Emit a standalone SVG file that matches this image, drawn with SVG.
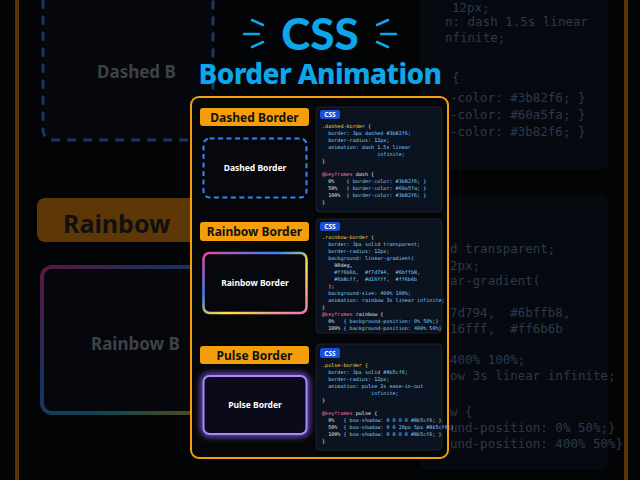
<svg xmlns="http://www.w3.org/2000/svg" width="640" height="480" viewBox="0 0 640 480">
<defs>
<style>
.lbl{font-family:"Noto Sans","DejaVu Sans",sans-serif;font-weight:700;font-size:12px;fill:#111;text-anchor:middle}
.box{font-family:"Noto Sans","DejaVu Sans",sans-serif;font-weight:700;font-size:8.5px;fill:#fff;text-anchor:middle}
.code{font-family:"DejaVu Sans Mono",monospace;font-size:5.1px;fill:#7dd3fc;white-space:pre}
.sel{fill:#fcd34d}.kw{fill:#f472b6}.c{fill:#e5e7eb}.v{fill:#60a5fa}
.panel{fill:#0b1220;stroke:#1f2937;stroke-width:0.8}
.badge{fill:#1d4ed8}
.bt{font-family:"Noto Sans","DejaVu Sans",sans-serif;font-weight:700;font-size:6.5px;fill:#fff;text-anchor:middle}
.bg{font-family:"DejaVu Sans Mono",monospace;font-size:12.5px;fill:#2c394a;white-space:pre}
</style>
<linearGradient id="rb" x1="0" y1="0" x2="1" y2="1">
<stop offset="0" stop-color="#ec4899"/><stop offset="0.35" stop-color="#3b82f6"/><stop offset="0.6" stop-color="#fde047"/><stop offset="1" stop-color="#f472b6"/>
</linearGradient>
<linearGradient id="rbd" x1="0" y1="0" x2="1" y2="1">
<stop offset="0" stop-color="#5a1840"/><stop offset="0.4" stop-color="#1a3260"/><stop offset="0.7" stop-color="#124650"/><stop offset="1" stop-color="#5a4c12"/>
</linearGradient>
<filter id="glow" x="-30%" y="-30%" width="160%" height="160%"><feGaussianBlur stdDeviation="3"/></filter>
</defs>
<rect width="640" height="480" fill="#030405"/>
<g id="background">
<line x1="17" y1="0" x2="17" y2="480" stroke="#5a3208" stroke-width="4"/>
<line x1="626" y1="0" x2="626" y2="480" stroke="#5a3208" stroke-width="4"/>
<rect x="43" y="-20" width="170" height="160" rx="10" fill="#05070c" stroke="#17395e" stroke-width="3" stroke-dasharray="9 7"/>
<text x="97" y="78" font-family="Noto Sans,sans-serif" font-weight="700" font-size="17" fill="#3e4247">Dashed B</text>
<rect x="37" y="198" width="170" height="44" rx="8" fill="#5e3707"/>
<text x="63" y="233" font-family="Noto Sans,sans-serif" font-weight="700" font-size="25" fill="#111">Rainbow</text>
<rect x="42" y="267" width="170" height="146" rx="10" fill="#05070c" stroke="url(#rbd)" stroke-width="4"/>
<text x="91" y="350" font-family="Noto Sans,sans-serif" font-weight="700" font-size="17" fill="#3e4247">Rainbow B</text>
<rect x="420" y="-20" width="188" height="190" rx="8" fill="#060910"/>
<rect x="420" y="195" width="188" height="275" rx="8" fill="#060910"/>
<text class="bg" x="452" y="12">12px;</text>
<text class="bg" x="445" y="26">n: dash 1.5s linear</text>
<text class="bg" x="445" y="42">nfinite;</text>
<text class="bg" x="452" y="82">{</text>
<text class="bg" x="450" y="102">-color: #3b82f6; }</text>
<text class="bg" x="450" y="119">-color: #60a5fa; }</text>
<text class="bg" x="450" y="136">-color: #3b82f6; }</text>
<text class="bg" x="450" y="253">d transparent;</text>
<text class="bg" x="450" y="270">2px;</text>
<text class="bg" x="450" y="285">ar-gradient(</text>
<text class="bg" x="450" y="317" fill="#3c2f4c">7d794,  #6bffb8,</text>
<text class="bg" x="450" y="333" fill="#3c2440">16fff,  #ff6b6b</text>
<text class="bg" x="450" y="364">400% 100%;</text>
<text class="bg" x="450" y="380">ow 3s linear infinite;</text>
<text class="bg" x="450" y="416">w {</text>
<text class="bg" x="450" y="432">und-position: 0% 50%;}</text>
<text class="bg" x="450" y="448">und-position: 400% 50%}</text>
</g>
<g id="title">
<g stroke="#0ea5e9" stroke-width="2.5" stroke-linecap="round">
<line x1="252" y1="20" x2="263" y2="25"/><line x1="244" y1="34" x2="259" y2="34"/><line x1="252" y1="47" x2="263" y2="42"/>
<line x1="388" y1="20" x2="377" y2="25"/><line x1="396" y1="34" x2="381" y2="34"/><line x1="388" y1="47" x2="377" y2="42"/>
</g>
<text x="320" y="50" text-anchor="middle" font-family="Lato,'Noto Sans',sans-serif" font-weight="900" font-size="44" fill="#0ea5e9">CSS</text>
<text x="320" y="84" text-anchor="middle" font-family="'Noto Sans',sans-serif" font-weight="800" font-size="28" fill="#0ea5e9" letter-spacing="-0.6">Border Animation</text>
</g>
<rect x="191" y="97" width="257" height="361" rx="8" fill="#050608" stroke="#f59e0b" stroke-width="2"/>
<g id="dashed">
<rect x="200" y="108" width="109" height="18" rx="3" fill="#f59e0b"/>
<text class="lbl" x="254.5" y="121.5">Dashed Border</text>
<rect x="203.5" y="138.5" width="103" height="59" rx="6" fill="#06080e" stroke="#3b82f6" stroke-width="2" stroke-dasharray="5 3.5"/>
<text class="box" x="255" y="171">Dashed Border</text>
</g>
<g id="dashed-code">
<rect class="panel" x="316" y="107" width="126" height="105" rx="4"/>
<rect class="badge" x="320" y="110" width="20" height="9" rx="2.5"/><text class="bt" x="330" y="117">CSS</text>
<text class="code" x="322" y="128"><tspan class="sel">.dashed-border {</tspan></text>
<text class="code" x="322" y="135">  border: 3px dashed #3b82f6;</text>
<text class="code" x="322" y="142">  border-radius: 12px;</text>
<text class="code" x="322" y="149">  animation: dash 1.5s linear</text>
<text class="code" x="322" y="156">                  infinite;</text>
<text class="code c" x="322" y="163">}</text>
<text class="code" x="322" y="176"><tspan class="kw">@keyframes</tspan><tspan class="c"> dash {</tspan></text>
<text class="code" x="322" y="183"><tspan class="c">  0%    </tspan>{ border-color: #3b82f6; }</text>
<text class="code" x="322" y="190"><tspan class="c">  50%   </tspan>{ border-color: #60a5fa; }</text>
<text class="code" x="322" y="197"><tspan class="c">  100%  </tspan>{ border-color: #3b82f6; }</text>
<text class="code c" x="322" y="204">}</text>
</g>
<g id="rainbow">
<rect x="200" y="222" width="109" height="19" rx="3" fill="#f59e0b"/>
<text class="lbl" x="254.5" y="236">Rainbow Border</text>
<rect x="203.5" y="253" width="103" height="60" rx="6" fill="#06080e" stroke="url(#rb)" stroke-width="2.5"/>
<text class="box" x="255" y="286">Rainbow Border</text>
</g>
<g id="rainbow-code">
<rect class="panel" x="316" y="219" width="126" height="114" rx="4"/>
<rect class="badge" x="320" y="222" width="20" height="9" rx="2.5"/><text class="bt" x="330" y="229">CSS</text>
<text class="code" x="322" y="239"><tspan class="sel">.rainbow-border {</tspan></text>
<text class="code" x="322" y="246">  border: 3px solid transparent;</text>
<text class="code" x="322" y="253">  border-radius: 12px;</text>
<text class="code" x="322" y="260">  background: linear-gradient(</text>
<text class="code c" x="322" y="267">    90deg,</text>
<text class="code" x="322" y="274" fill="#f472b6">    #ff6b6b,  #f7d794,  #6bffb8,</text>
<text class="code" x="322" y="281" fill="#e879f9">    #6b8cff,  #d16fff,  #ff6b6b</text>
<text class="code c" x="322" y="288">  );</text>
<text class="code" x="322" y="295">  background-size: 400% 100%;</text>
<text class="code" x="322" y="302">  animation: rainbow 3s linear infinite;</text>
<text class="code c" x="322" y="309">}</text>
<text class="code" x="322" y="316"><tspan class="kw">@keyframes</tspan><tspan class="c"> rainbow {</tspan></text>
<text class="code" x="322" y="323"><tspan class="c">  0%   </tspan>{ background-position: 0% 50%;}</text>
<text class="code" x="322" y="330"><tspan class="c">  100% </tspan>{ background-position: 400% 50%}</text>
</g>
<g id="pulse">
<rect x="200" y="346" width="109" height="18" rx="3" fill="#f59e0b"/>
<text class="lbl" x="254.5" y="359.5">Pulse Border</text>
<rect x="203.5" y="376" width="103" height="58" rx="6" fill="none" stroke="#8b5cf6" stroke-width="5" filter="url(#glow)"/>
<rect x="203.5" y="376" width="103" height="58" rx="6" fill="#0a0a1a" stroke="#a78bfa" stroke-width="2"/>
<text class="box" x="255" y="408">Pulse Border</text>
</g>
<g id="pulse-code">
<rect class="panel" x="316" y="344" width="126" height="106" rx="4"/>
<rect class="badge" x="320" y="348" width="20" height="10" rx="2.5"/><text class="bt" x="330" y="355.5">CSS</text>
<text class="code" x="322" y="367"><tspan class="sel">.pulse-border {</tspan></text>
<text class="code" x="322" y="374">  border: 3px solid #8b5cf6;</text>
<text class="code" x="322" y="381">  border-radius: 12px;</text>
<text class="code" x="322" y="388">  animation: pulse 2s ease-in-out</text>
<text class="code" x="322" y="395">                infinite;</text>
<text class="code c" x="322" y="402">}</text>
<text class="code" x="322" y="415"><tspan class="kw">@keyframes</tspan><tspan class="c"> pulse {</tspan></text>
<text class="code" x="322" y="422"><tspan class="c">  0%   </tspan>{ box-shadow: 0 0 0 0 #8b5cf6; }</text>
<text class="code" x="322" y="429"><tspan class="c">  50%  </tspan>{ box-shadow: 0 0 20px 5px #8b5cf6;}</text>
<text class="code" x="322" y="436"><tspan class="c">  100% </tspan>{ box-shadow: 0 0 0 0 #8b5cf6; }</text>
<text class="code c" x="322" y="443">}</text>
</g>
</svg>
